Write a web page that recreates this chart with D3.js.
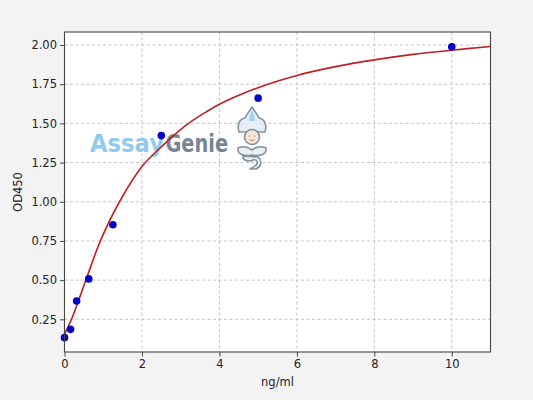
<!DOCTYPE html>
<meta charset="utf-8">
<style>
  body { margin: 0; background: #f3f3f3; }
  text { font-family: "DejaVu Sans", sans-serif; }
</style>
<body>
</body>
<script src="https://d3js.org/d3.v7.min.js"></script>
<script>

// standard points (ng/ml vs OD450)
const stdConc = [0, 0.156, 0.3125, 0.625, 1.25, 2.5, 5, 10];
const stdOD = [0.133, 0.186, 0.367, 0.508, 0.853, 1.422, 1.661, 1.989];

// fitted curve
const fitConc = [0, 0.2, 0.573, 0.935, 1.42, 2.0, 2.5, 3.15, 3.67, 4, 5, 6, 7, 8, 9, 10, 11];
const fitOD = [0.155, 0.262, 0.515, 0.755, 1.0, 1.225, 1.35, 1.49, 1.575, 1.622, 1.728, 1.806, 1.862, 1.905, 1.94, 1.967, 1.99];

const xTicks = [0, 2, 4, 6, 8, 10];
const yTicks = [0.25, 0.5, 0.75, 1.0, 1.25, 1.5, 1.75, 2.0];

const width = 533, height = 400;
const plotL = 64.5, plotR = 490.5, plotT = 32, plotB = 352;

const svg = d3.select("body").append("svg")
    .attr("width", width)
    .attr("height", height);

svg.append("rect")
    .attr("width", width).attr("height", height)
    .attr("fill", "#f3f3f3");

svg.append("rect")
    .attr("x", plotL).attr("y", plotT)
    .attr("width", plotR - plotL).attr("height", plotB - plotT)
    .attr("fill", "#fff");

const x = d3.scaleLinear().domain([0, 11]).range([plotL, plotR]);
const y = d3.scaleLinear().domain([0.0415, 2.083]).range([plotB, plotT]);

// grid
const grid = svg.append("g")
    .attr("stroke", "#b8b8b8")
    .attr("stroke-width", 0.8)
    .attr("stroke-dasharray", "3,2.5");
grid.selectAll("line.v")
  .data(xTicks)
  .join("line")
    .attr("class", "v")
    .attr("x1", d => x(d)).attr("x2", d => x(d))
    .attr("y1", plotT).attr("y2", plotB);
grid.selectAll("line.h")
  .data(yTicks)
  .join("line")
    .attr("class", "h")
    .attr("x1", plotL).attr("x2", plotR)
    .attr("y1", d => y(d)).attr("y2", d => y(d));

// watermark logo, two words side by side
const logo = svg.append("g")
    .attr("opacity", 0.95)
    .attr("font-family", "Liberation Sans, Arial, sans-serif")
    .attr("font-weight", "bold")
    .attr("font-size", 24);
logo.append("text")
    .attr("x", 90).attr("y", 151.7)
    .attr("textLength", 74)
    .attr("lengthAdjust", "spacingAndGlyphs")
    .attr("fill", "#88c9ec")
    .text("Assay");
logo.append("text")
    .attr("x", 165.5).attr("y", 151.7)
    .attr("textLength", 62.5)
    .attr("lengthAdjust", "spacingAndGlyphs")
    .attr("fill", "#6f7e8e")
    .text("Genie");

// little genie figure
const genie = logo.append("g")
    .attr("transform", "translate(252,107)")
    .attr("stroke", "#7d8c9b")
    .attr("stroke-width", 1.6)
    .attr("stroke-linejoin", "round")
    .attr("stroke-linecap", "round");
// turban
genie.append("path")
    .attr("fill", "#e6eef5")
    .attr("d", "M0,0 C-3,5 -6,8 -7,11 C-13,12 -15,18 -13,25 L13,25 C15,18 13,12 7,11 C6,8 3,5 0,0 Z");
genie.append("path")
    .attr("fill", "#9fd3ee")
    .attr("stroke", "none")
    .attr("d", "M0,3 C-2,7 -3,10 -3,14 L3,14 C3,10 2,7 0,3 Z");
// face
genie.append("circle")
    .attr("cx", 0).attr("cy", 30).attr("r", 7.5)
    .attr("fill", "#fbe3cf");
genie.append("circle").attr("cx", -2.6).attr("cy", 29).attr("r", 0.6).attr("fill", "#555").attr("stroke", "none");
genie.append("circle").attr("cx", 2.6).attr("cy", 29).attr("r", 0.6).attr("fill", "#555").attr("stroke", "none");
genie.append("path")
    .attr("fill", "none").attr("stroke-width", 1)
    .attr("d", "M-2,33 Q0,34.5 2,33");
// arms
genie.append("path")
    .attr("fill", "#e6eef5")
    .attr("d", "M-14,41 C-15,47 -8,50 0,48 C8,50 15,47 14,41 C8,38 4,40 0,43 C-4,40 -8,38 -14,41 Z");
// tail
genie.append("path")
    .attr("fill", "#e6eef5")
    .attr("d", "M-9,49 C-10,54 -2,55 1,53 C5,52 7,56 3,59 C1,61 -2,61 -2,62 L4,62 C9,60 11,54 6,50 Z");

// fitted curve
const line = d3.line()
    .x((d, i) => x(fitConc[i]))
    .y(d => y(d))
    .curve(d3.curveCatmullRom.alpha(0.5));
svg.append("path")
    .datum(fitOD)
    .attr("fill", "none")
    .attr("stroke", "#bf1f24")
    .attr("stroke-width", 1.6)
    .attr("d", line);

// points
svg.append("g")
    .attr("fill", "#0000cc")
  .selectAll("circle")
  .data(stdOD)
  .join("circle")
    .attr("cx", (d, i) => x(stdConc[i]))
    .attr("cy", d => y(d))
    .attr("r", 3.8);

// axes
const xAxis = svg.append("g")
    .attr("transform", `translate(0,${plotB})`)
    .call(d3.axisBottom(x).tickValues(xTicks).tickSize(4.5).tickPadding(3).tickFormat(d3.format("d")));
const yAxis = svg.append("g")
    .attr("transform", `translate(${plotL},0)`)
    .call(d3.axisLeft(y).tickValues(yTicks).tickSize(4.5).tickPadding(3).tickFormat(d3.format(".2f")));
[xAxis, yAxis].forEach(a => {
  a.select(".domain").remove();
  a.selectAll("line").attr("stroke", "#333").attr("stroke-width", 0.9);
  a.selectAll("text")
      .attr("font-family", "DejaVu Sans, sans-serif")
      .attr("font-size", 11.5)
      .attr("fill", "#222");
});

// frame
svg.append("rect")
    .attr("x", plotL).attr("y", plotT)
    .attr("width", plotR - plotL).attr("height", plotB - plotT)
    .attr("fill", "none")
    .attr("stroke", "#444")
    .attr("stroke-width", 1.1);

// labels
svg.append("text")
    .attr("x", (plotL + plotR) / 2).attr("y", 386)
    .attr("text-anchor", "middle")
    .attr("font-size", 11.5)
    .attr("fill", "#222")
    .text("ng/ml");
svg.append("text")
    .attr("transform", `translate(22,${(plotT + plotB) / 2}) rotate(-90)`)
    .attr("text-anchor", "middle")
    .attr("font-size", 11.5)
    .attr("fill", "#222")
    .text("OD450");

</script>
